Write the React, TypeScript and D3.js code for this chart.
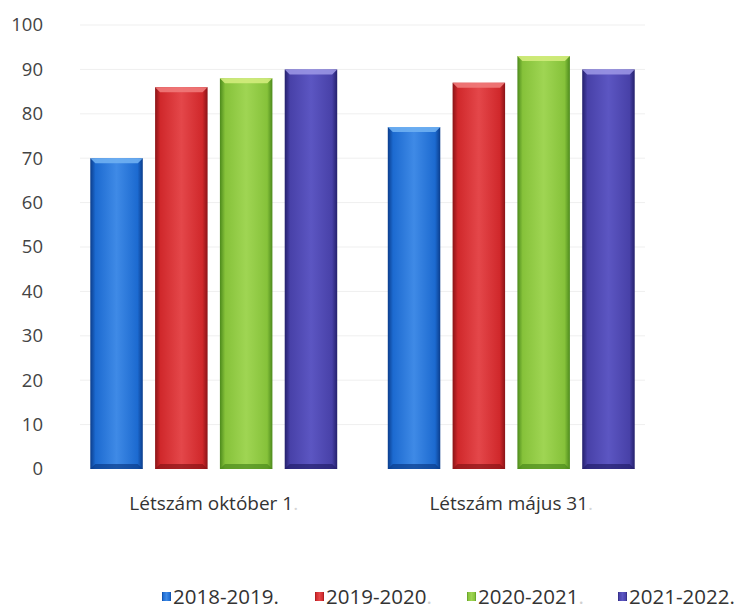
import React from "react";
import * as d3 from "d3";

const categories = ["Létszám október 1.", "Létszám május 31."];
const seriesNames = ["2018-2019.", "2019-2020.", "2020-2021.", "2021-2022."];
const s2018 = [70, 77];
const s2019 = [86, 87];
const s2020 = [88, 93];
const s2021 = [90, 90];
const yTicks = [0, 10, 20, 30, 40, 50, 60, 70, 80, 90, 100];

const seriesValues = [s2018, s2019, s2020, s2021];
const palette = [
  { main: "#1c6ad0", light: "#3f8ae6", dark: "#0b3d8c", top: "#6fb0f2" },
  { main: "#d0282b", light: "#e4474a", dark: "#8a1417", top: "#f07a7a" },
  { main: "#86c23a", light: "#9fd553", dark: "#4c8a1c", top: "#d3ec7c" },
  { main: "#4841a8", light: "#5c56c2", dark: "#24206c", top: "#9a95e4" },
];
// faint trailing period flags (scan artefacts)
const faintCat = [true, true];
const faintLegend = [false, true, true, false];

const W = 740;
const H = 609;
const left = 65;
const right = 660;
const yTop = 25;
const yBottom = 469;

export default function App() {
  const x0 = d3.scaleBand<string>().domain(categories).range([left, right]).paddingInner(0.17).paddingOuter(0.085);
  const x1 = d3.scaleBand<string>().domain(seriesNames).range([0, x0.bandwidth()]).paddingInner(0.19).paddingOuter(0);
  const y = d3.scaleLinear().domain([0, 100]).range([yBottom, yTop]);
  const font = "'Open Sans', 'DejaVu Sans', sans-serif";
  const legendX = [162, 315, 467, 618];

  return (
    <svg width={W} height={H} style={{ position: "absolute", left: 0, top: 0, background: "#fff" }} fontFamily={font}>
      <defs>
        {palette.map((c, i) => (
          <linearGradient key={i} id={`g${i}`} x1="0" x2="1" y1="0" y2="0">
            <stop offset="0%" stopColor={c.dark} />
            <stop offset="10%" stopColor={c.main} />
            <stop offset="50%" stopColor={c.light} />
            <stop offset="90%" stopColor={c.main} />
            <stop offset="100%" stopColor={c.dark} />
          </linearGradient>
        ))}
      </defs>
      {yTicks.map((t) => (
        <g key={t}>
          {t > 0 && <line x1={left + 15} x2={right - 15} y1={y(t)} y2={y(t)} stroke="#efefef" strokeWidth={1} />}
          <text x={43} y={y(t)} dy="0.35em" textAnchor="end" fontSize={18.5} fill="#444">
            {t}
          </text>
        </g>
      ))}
      {categories.map((cat, ci) => (
        <g key={cat} transform={`translate(${x0(cat)},0)`}>
          {seriesNames.map((s, si) => {
            const v = seriesValues[si][ci];
            const bx = x1(s) as number;
            const bw = x1.bandwidth();
            const by = y(v);
            const bh = yBottom - by;
            const c = palette[si];
            const bev = 5;
            return (
              <g key={s}>
                <rect x={bx} y={by} width={bw} height={bh} fill={`url(#g${si})`} />
                <polygon
                  points={`${bx},${by} ${bx + bw},${by} ${bx + bw - bev},${by + bev} ${bx + bev},${by + bev}`}
                  fill={c.top}
                  opacity={0.9}
                />
                <polygon
                  points={`${bx},${yBottom} ${bx + bw},${yBottom} ${bx + bw - bev},${yBottom - bev} ${bx + bev},${yBottom - bev}`}
                  fill={c.dark}
                  opacity={0.7}
                />
              </g>
            );
          })}
          <text
            x={x0.bandwidth() / 2}
            y={503}
            dy="0.35em"
            textAnchor="middle"
            fontSize={19}
            fill="#333"
          >
            {cat.slice(0, -1)}
            <tspan fill={faintCat[ci] ? "#d6d6d6" : "#333"}>.</tspan>
          </text>
        </g>
      ))}
      {seriesNames.map((s, i) => (
        <g key={s} transform={`translate(${legendX[i]},597)`}>
          <rect x={0} y={-5} width={9} height={9} fill={`url(#g${i})`} />
          <text x={11} y={0} dy="0.35em" fontSize={20.5} fill="#333">
            {s.slice(0, -1)}
            <tspan fill={faintLegend[i] ? "#d0d0d0" : "#333"}>.</tspan>
          </text>
        </g>
      ))}
    </svg>
  );
}
